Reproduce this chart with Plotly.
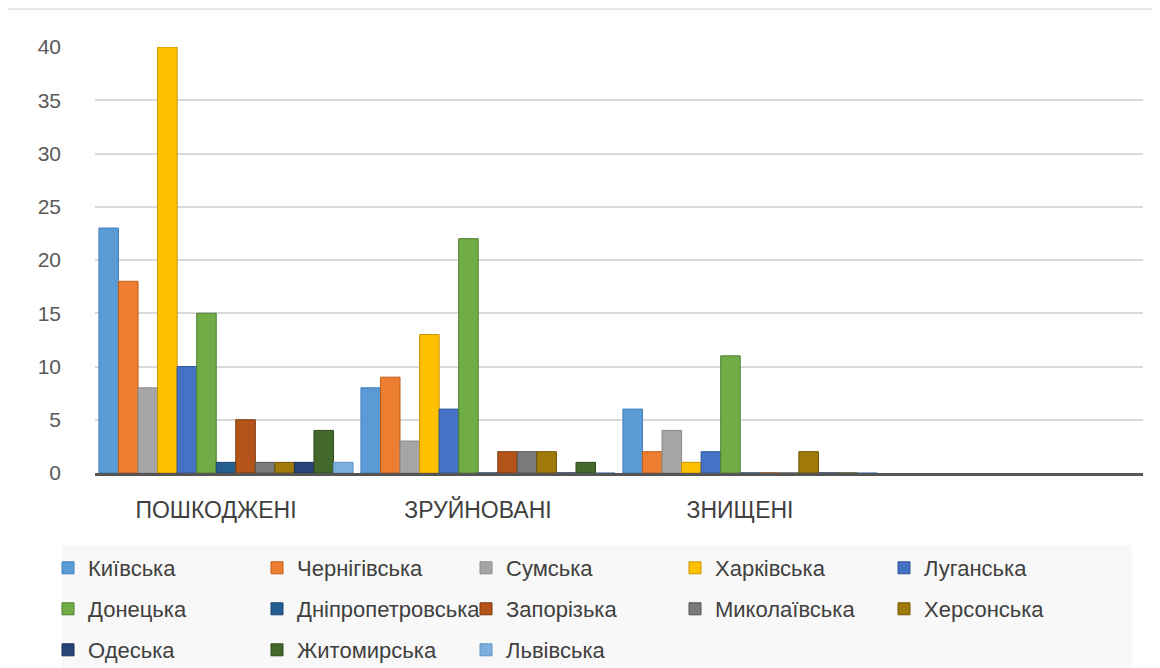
import plotly.graph_objects as go

categories = ["ПОШКОДЖЕНІ", "ЗРУЙНОВАНІ", "ЗНИЩЕНІ"]
regions = ["Київська", "Чернігівська", "Сумська", "Харківська", "Луганська",
           "Донецька", "Дніпропетровська", "Запорізька", "Миколаївська", "Херсонська",
           "Одеська", "Житомирська", "Львівська"]

kyivska = [23, 8, 6]
chernihivska = [18, 9, 2]
sumska = [8, 3, 4]
kharkivska = [40, 13, 1]
luhanska = [10, 6, 2]
donetska = [15, 22, 11]
dnipropetrovska = [1, 0, 0]
zaporizka = [5, 2, 0]
mykolaivska = [1, 2, 0]
khersonska = [1, 2, 2]
odeska = [1, 0, 0]
zhytomyrska = [4, 1, 0]
lvivska = [1, 0, 0]

series = [kyivska, chernihivska, sumska, kharkivska, luhanska, donetska,
          dnipropetrovska, zaporizka, mykolaivska, khersonska, odeska,
          zhytomyrska, lvivska]

colors = ["#5B9BD5", "#ED7D31", "#A5A5A5", "#FFC000", "#4472C4", "#70AD47",
          "#255E91", "#B5541A", "#7A7A7A", "#A07A08", "#264478", "#43682B", "#7CAFDD"]
line_colors = ["#3F7FBF", "#C0601A", "#8A8A8A", "#C99400", "#2F5597", "#507E32",
               "#1A4470", "#7E3A0B", "#555555", "#705500", "#1A3058", "#2F4A1E", "#5B92C6"]

FONT = "Liberation Sans, Arial, sans-serif"

fig = go.Figure()
legend_ids = ["legend"] * 5 + ["legend2"] * 5 + ["legend3"] * 3
for name, vals, c, lc, lg in zip(regions, series, colors, line_colors, legend_ids):
    fig.add_trace(go.Bar(
        x=categories, y=vals, name=name,
        marker=dict(color=c, line=dict(color=lc, width=1)),
        legend=lg,
    ))

# page body has an 8px margin, so figure coords = screen coords - 8
FW, FH = 1152, 660
OFF = 8
plot_l, plot_r, plot_t, plot_b = 95 - OFF, FW - (1143 - OFF), 47 - OFF, FH - (473 - OFF)
H = FH - plot_t - plot_b
W = FW - plot_l - plot_r

def ly(ypx):  # screen y -> paper y
    return (FH - plot_b - (ypx - OFF)) / H

def lx(xpx):  # screen x -> paper x
    return ((xpx - OFF) - plot_l) / W

leg_common = dict(
    orientation="h", xanchor="left", yanchor="middle",
    x=lx(48),
    font=dict(family=FONT, size=22, color="#404040"),
    bgcolor="rgba(0,0,0,0)",
    entrywidth=164, entrywidthmode="pixels",
    itemclick=False,
)

fig.update_layout(
    width=FW, height=FH,
    margin=dict(l=plot_l, r=plot_r, t=plot_t, b=plot_b, autoexpand=False),
    paper_bgcolor="white", plot_bgcolor="white",
    barmode="group", bargap=0.03, bargroupgap=0.0,
    font=dict(family=FONT, size=21, color="#595959"),
    xaxis=dict(
        type="category", range=[-0.5, 3.5],
        showgrid=False, showline=True, linecolor="#555555", linewidth=3,
        ticks="", ticklabelstandoff=14, ticklabelshift=-10,
        tickfont=dict(family=FONT, size=23, color="#404040"),
    ),
    yaxis=dict(
        range=[0, 40], dtick=5, showgrid=True, gridcolor="#D9D9D9", gridwidth=2,
        zeroline=False, showline=False, ticks="", ticklabelstandoff=33,
        tickfont=dict(family=FONT, size=21, color="#595959"),
    ),
    legend=dict(leg_common, y=ly(568)),
    legend2=dict(leg_common, y=ly(609)),
    legend3=dict(leg_common, y=ly(650)),
    shapes=[
        dict(type="rect", xref="paper", yref="paper",
             x0=lx(62), x1=lx(1132), y0=ly(668), y1=ly(545),
             fillcolor="#F8F8F8", line=dict(width=0), layer="below"),
        dict(type="line", xref="paper", yref="paper",
             x0=lx(8), x1=lx(1160), y0=ly(9), y1=ly(9),
             line=dict(color="#D0D0D0", width=1)),
    ],
)

fig.write_html("out.html")
